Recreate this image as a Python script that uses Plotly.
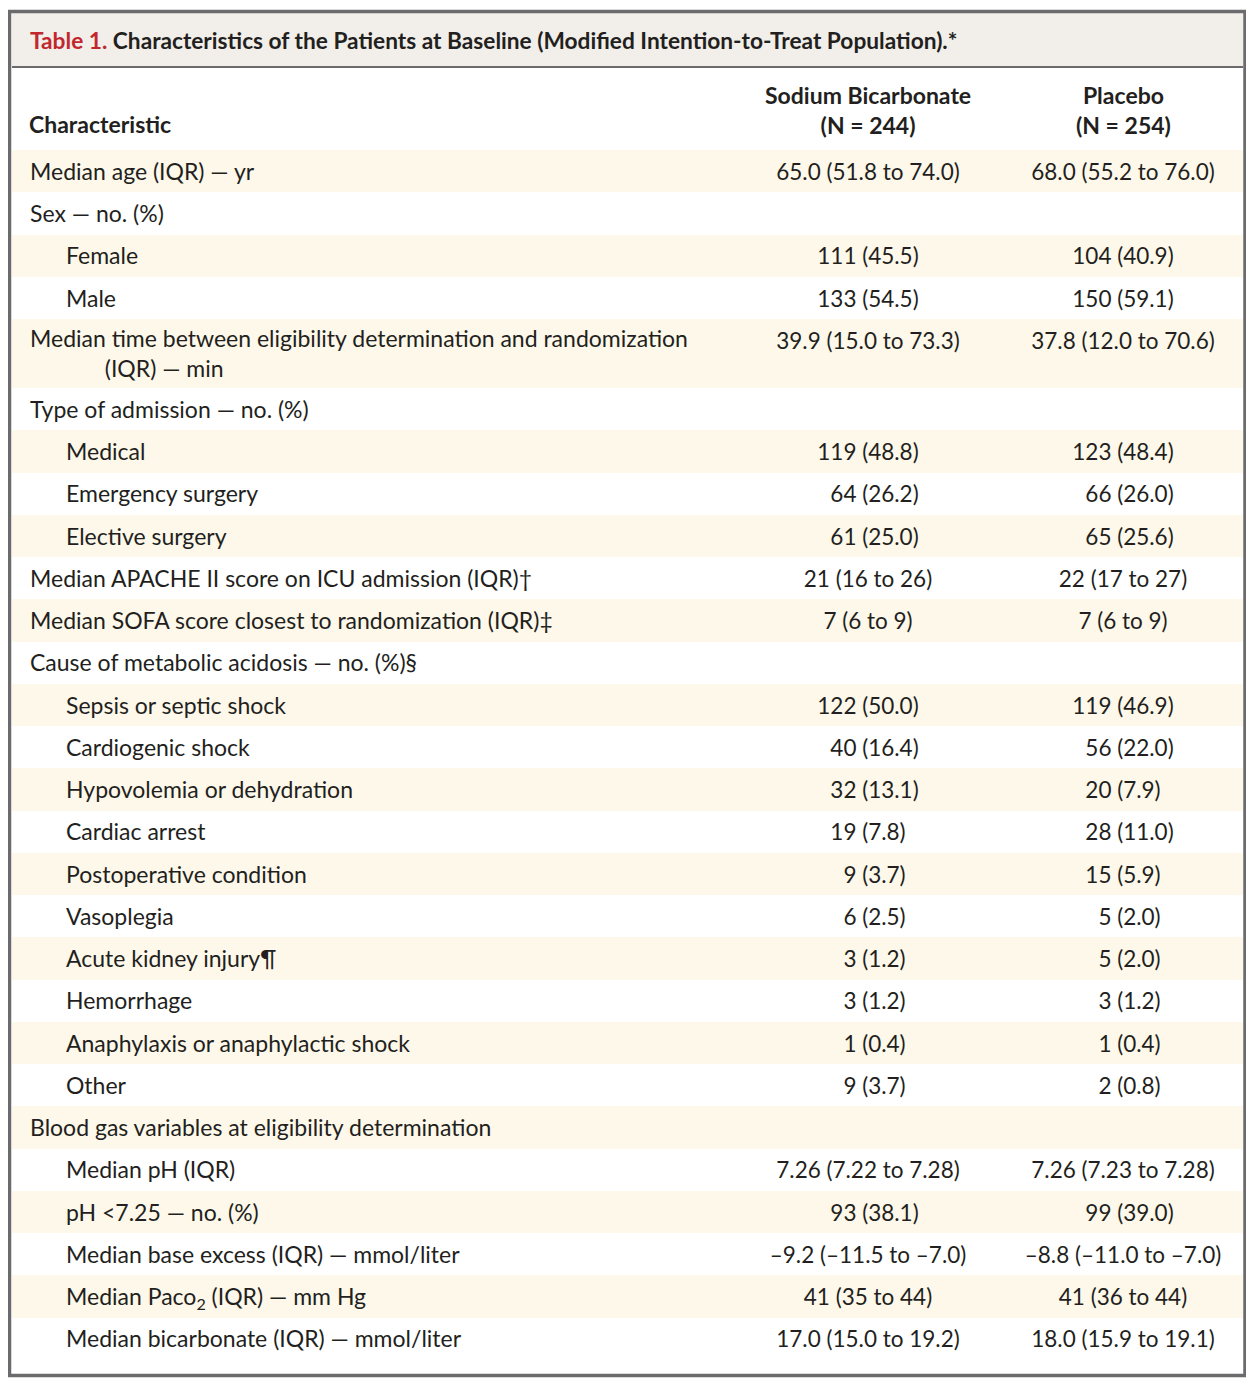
#!/usr/bin/env python3
"""Table 1 baseline characteristics, drawn with Plotly bars + text on pixel axes."""

import re

import numpy as np
import plotly.graph_objects as go

# ---- data -------------------------------------------------------------
characteristics = [
    "Median age (IQR) — yr",
    "Sex — no. (%)",
    "Female",
    "Male",
    "Median time between eligibility determination and randomization<br>(IQR) — min",
    "Type of admission — no. (%)",
    "Medical",
    "Emergency surgery",
    "Elective surgery",
    "Median APACHE II score on ICU admission (IQR)†",
    "Median SOFA score closest to randomization (IQR)‡",
    "Cause of metabolic acidosis — no. (%)§",
    "Sepsis or septic shock",
    "Cardiogenic shock",
    "Hypovolemia or dehydration",
    "Cardiac arrest",
    "Postoperative condition",
    "Vasoplegia",
    "Acute kidney injury¶",
    "Hemorrhage",
    "Anaphylaxis or anaphylactic shock",
    "Other",
    "Blood gas variables at eligibility determination",
    "Median pH (IQR)",
    "pH &lt;7.25 — no. (%)",
    "Median base excess (IQR) — mmol/liter",
    "Median Paco<sub>2</sub> (IQR) — mm Hg",
    "Median bicarbonate (IQR) — mmol/liter",
]

subitem = [
    False, False, True, True, False, False, True, True, True, False,
    False, False, True, True, True, True, True, True, True, True,
    True, True, False, True, True, True, True, True,
]

bicarbonate = [
    "65.0 (51.8 to 74.0)", "", "111 (45.5)", "133 (54.5)",
    "39.9 (15.0 to 73.3)", "", "119 (48.8)", "64 (26.2)", "61 (25.0)",
    "21 (16 to 26)", "7 (6 to 9)", "", "122 (50.0)", "40 (16.4)",
    "32 (13.1)", "19 (7.8)", "9 (3.7)", "6 (2.5)", "3 (1.2)", "3 (1.2)",
    "1 (0.4)", "9 (3.7)", "", "7.26 (7.22 to 7.28)", "93 (38.1)",
    "–9.2 (–11.5 to –7.0)", "41 (35 to 44)", "17.0 (15.0 to 19.2)",
]

placebo = [
    "68.0 (55.2 to 76.0)", "", "104 (40.9)", "150 (59.1)",
    "37.8 (12.0 to 70.6)", "", "123 (48.4)", "66 (26.0)", "65 (25.6)",
    "22 (17 to 27)", "7 (6 to 9)", "", "119 (46.9)", "56 (22.0)",
    "20 (7.9)", "28 (11.0)", "15 (5.9)", "5 (2.0)", "5 (2.0)", "3 (1.2)",
    "1 (0.4)", "2 (0.8)", "", "7.26 (7.23 to 7.28)", "99 (39.0)",
    "–8.8 (–11.0 to –7.0)", "41 (36 to 44)", "18.0 (15.9 to 19.1)",
]

col_headers = [
    "Characteristic",
    "Sodium Bicarbonate<br>(N = 244)",
    "Placebo<br>(N = 254)",
]

title_tag = "Table 1."
title_text = ("Characteristics of the Patients at Baseline "
              "(Modified Intention-to-Treat Population).*")

# ---- styling ----------------------------------------------------------
FONT = "Lato"
INK = "#231f20"
SHADE = "#fdf8ea"
BAND = "#f2efea"
FRAME = "#6b6b6d"
RED = "#c1272d"
FIGSP = "\u2007"  # figure space, same width as a digit
EN = "\u2002"

# the page body has an 8px margin; axes are laid out in page pixels
OFF = 8
W, H = 1246, 1378
COLS = [12, 733, 1003, 1243]   # column edges
BODY_TOP = 150                  # first data row starts here
ROW_H, LINE_H = 42.25, 26.75    # single-line row, each extra line
INDENT = [30, 66]               # left edge of label text: main / sub-item
NUDGE = 3                       # drop text a little to sit optically centred
HANG = EN * 6 + "\u2009" * 2    # hanging indent for wrapped labels


def pad_count(s: str) -> str:
    """Line 'n (pct)' entries up on the parenthesis, like the journal does."""
    m = re.fullmatch(r"(\d+) \((\d+\.\d)\)", s)
    if not m:
        return s
    n, p = m.groups()
    return FIGSP * (3 - len(n)) + s + FIGSP * (4 - len(p))


# row geometry from the number of lines in each label
n_lines = np.array([s.count("<br>") + 1 for s in characteristics])
heights = ROW_H + (n_lines - 1) * LINE_H
tops = BODY_TOP + np.concatenate([[0], np.cumsum(heights)[:-1]])
centres = tops + heights / 2
first_line = tops + ROW_H / 2

labels = [s.replace("<br>", "<br>" + HANG) for s in characteristics]
label_x = [INDENT[int(f)] for f in subitem]
fills = [SHADE if i % 2 == 0 else "white" for i in range(len(characteristics))]
mid = [(a + b) / 2 for a, b in zip(COLS[1:-1], COLS[2:])]

fig = go.Figure()

# row shading
fig.add_trace(go.Bar(
    orientation="h",
    y=centres,
    x=[COLS[-1] - COLS[0]] * len(centres),
    base=COLS[0],
    width=heights,
    marker=dict(color=fills, line_width=0),
    hoverinfo="skip",
    showlegend=False,
))

# first column
fig.add_trace(go.Scatter(
    x=label_x, y=centres + NUDGE, text=labels,
    mode="text", textposition="middle right",
    textfont=dict(family=FONT, size=23, color=INK),
    hoverinfo="skip", showlegend=False,
))

# value columns (blank cells are simply not drawn)
for xc, col in zip(mid, [bicarbonate, placebo]):
    keep = [i for i, v in enumerate(col) if v]
    fig.add_trace(go.Scatter(
        x=[xc] * len(keep),
        y=[first_line[i] + NUDGE for i in keep],
        text=[pad_count(col[i]) for i in keep],
        mode="text", textposition="middle center",
        textfont=dict(family=FONT, size=22.5, color=INK),
        hoverinfo="skip", showlegend=False,
    ))

# column headings
fig.add_annotation(
    x=INDENT[0] - 3, y=124, xanchor="left", yanchor="middle", showarrow=False,
    text="<b>" + col_headers[0] + "</b>",
    font=dict(family=FONT, size=23, color=INK),
)
for xc, head in zip(mid, col_headers[1:]):
    fig.add_annotation(
        x=xc, y=110, xanchor="center", yanchor="middle", align="center",
        showarrow=False, text="<b>" + head + "</b>",
        font=dict(family=FONT, size=23, color=INK),
    )

# frame, title band and its rule
fig.add_shape(type="rect", x0=COLS[0], x1=COLS[-1], y0=12, y1=67,
              fillcolor=BAND, line_width=0, layer="below")
fig.add_shape(type="line", x0=COLS[0], x1=COLS[-1], y0=67, y1=67,
              line=dict(color=FRAME, width=2), layer="above")
fig.add_shape(type="rect", x0=9.5, x1=1245, y0=11.5, y1=1375.5,
              line=dict(color=FRAME, width=3.5), layer="above")

fig.add_annotation(
    x=28, y=40, xanchor="left", yanchor="middle", showarrow=False,
    text=(f"<b><span style='color:{RED}'>{title_tag}</span> "
          f"{title_text}</b>"),
    font=dict(family=FONT, size=22.7, color=INK),
)

fig.update_xaxes(range=[OFF, OFF + W], visible=False, fixedrange=True)
fig.update_yaxes(range=[OFF + H, OFF], visible=False, fixedrange=True)
fig.update_layout(
    width=W,
    height=H,
    margin=dict(l=0, r=0, t=0, b=0),
    paper_bgcolor="white",
    plot_bgcolor="white",
    bargap=0,
)

fig.write_html("out.html")
